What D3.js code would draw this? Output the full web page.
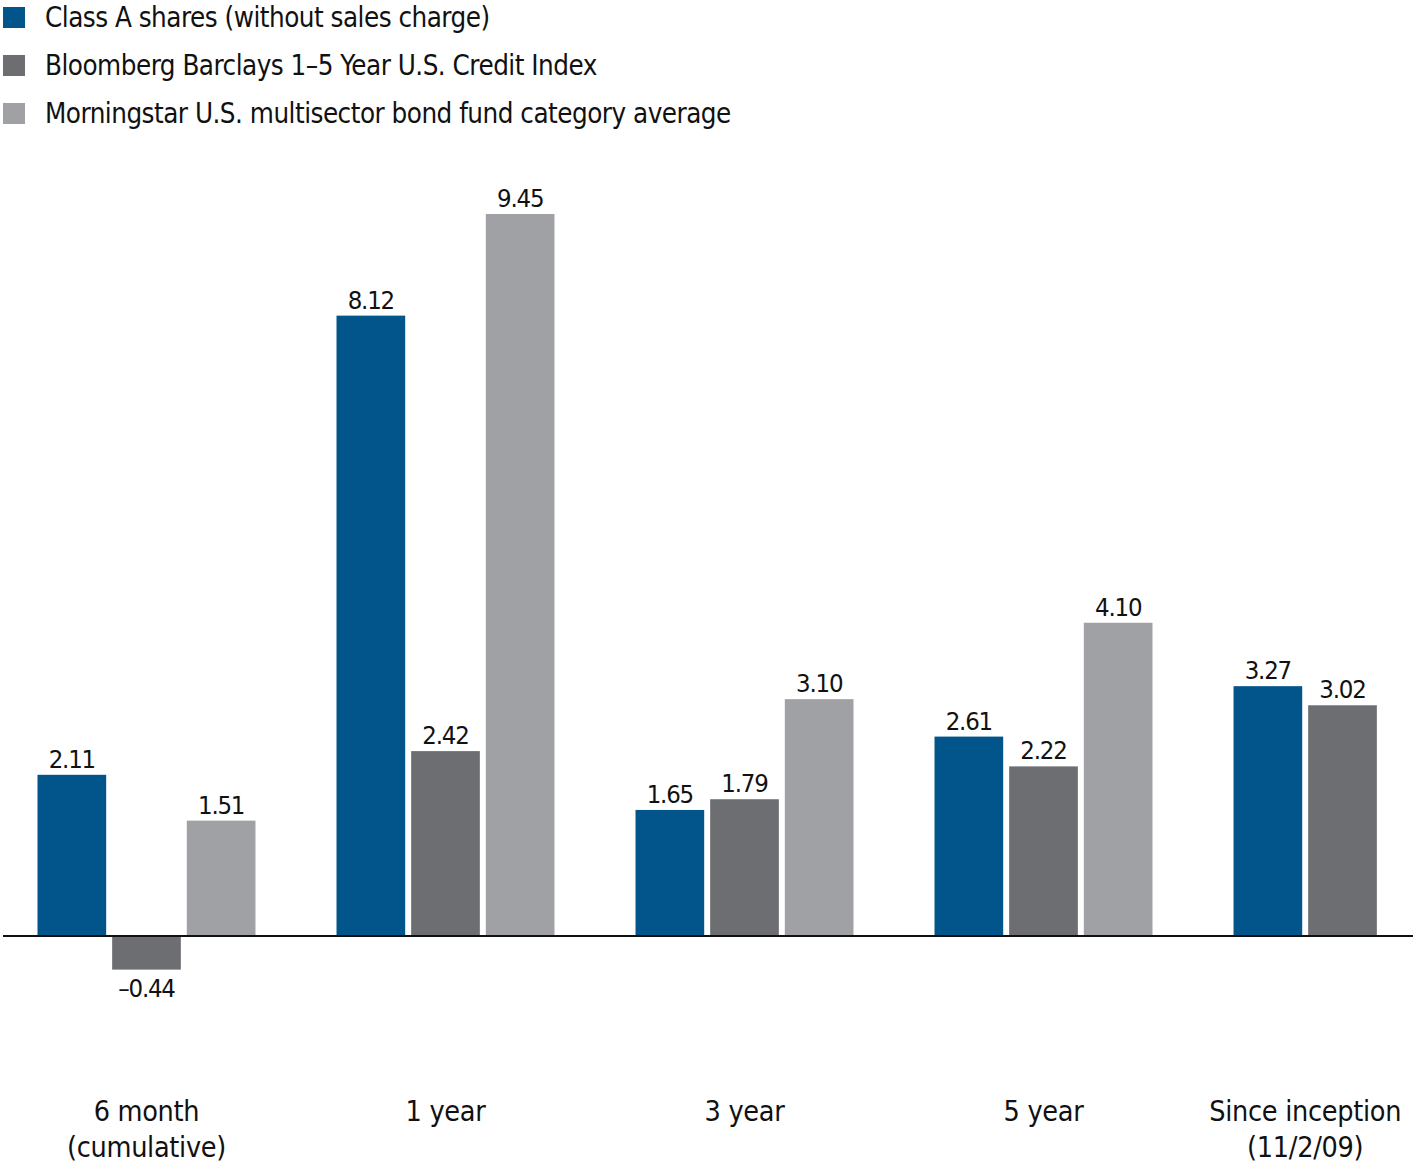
<!DOCTYPE html>
<html>
<head>
<meta charset="utf-8">
<script src="https://cdn.jsdelivr.net/npm/d3@7"></script>
<style>
  html, body { margin: 0; padding: 0; background: #fff; }
  svg { display: block; font-family: "Liberation Sans Narrow", "DejaVu Sans Condensed", "Arial Narrow", sans-serif; }
</style>
</head>
<body>
<svg id="chart" width="1413" height="1167"></svg>
<script>
const categories = ["6 month|(cumulative)", "1 year", "3 year", "5 year", "Since inception|(11/2/09)"];
const seriesNames = [
  "Class A shares (without sales charge)",
  "Bloomberg Barclays 1\u20135 Year U.S. Credit Index",
  "Morningstar U.S. multisector bond fund category average"
];
const classA = [2.11, 8.12, 1.65, 2.61, 3.27];
const bloomberg = [-0.44, 2.42, 1.79, 2.22, 3.02];
const morningstar = [1.51, 9.45, 3.10, 4.10, null];
const colors = ["#02558b", "#6d6e72", "#a0a1a5"];

const seriesValues = [classA, bloomberg, morningstar];
const fmt = v => (v < 0 ? "\u2013" : "") + Math.abs(v).toFixed(2);

const svg = d3.select("#chart");

const x0 = d3.scaleBand().domain(d3.range(categories.length))
  .range([37.5, 1451.5]).paddingInner(0.271).paddingOuter(0);
const x1 = d3.scaleBand().domain(d3.range(seriesNames.length))
  .range([0, x0.bandwidth()]).paddingInner(0.08).paddingOuter(0);
const y = d3.scaleLinear().domain([0, 10]).range([936, 172]);

// bars
const groups = svg.append("g").selectAll("g")
  .data(categories).join("g")
  .attr("transform", (d, i) => `translate(${x0(i)},0)`);

groups.each(function(cat, ci) {
  const g = d3.select(this);
  const present = seriesValues.map((s, si) => ({si, v: s[ci]})).filter(d => d.v !== null);
  g.selectAll("rect").data(present).join("rect")
    .attr("x", d => x1(d.si))
    .attr("width", x1.bandwidth())
    .attr("y", d => y(Math.max(0, d.v)))
    .attr("height", d => Math.abs(y(d.v) - y(0)))
    .attr("fill", d => colors[d.si]);
  g.selectAll("text.val").data(present).join("text")
    .attr("class", "val")
    .attr("x", d => x1(d.si) + x1.bandwidth() / 2)
    .attr("y", d => d.v >= 0 ? y(d.v) - 7 : y(d.v) + 27)
    .attr("text-anchor", "middle")
    .attr("font-size", 25.5)
    .attr("letter-spacing", -1.2)
    .attr("fill", "#111")
    .text(d => fmt(d.v));
  // category label centered on present bars
  const first = x1(present[0].si);
  const last = x1(present[present.length - 1].si) + x1.bandwidth();
  const cx = (first + last) / 2;
  const lines = cat.split("|");
  const t = g.append("text")
    .attr("text-anchor", "middle")
    .attr("font-size", 28.5)
    .attr("letter-spacing", -0.3)
    .attr("fill", "#111");
  lines.forEach((ln, li) => {
    t.append("tspan").attr("x", cx).attr("y", 1121 + li * 36).text(ln);
  });
});

// zero line
svg.append("line")
  .attr("x1", 3).attr("x2", 1413)
  .attr("y1", y(0)).attr("y2", y(0))
  .attr("stroke", "#111").attr("stroke-width", 2);

// legend
const legend = svg.append("g").selectAll("g")
  .data(seriesNames).join("g")
  .attr("transform", (d, i) => `translate(0,${i * 48})`);
legend.append("rect")
  .attr("x", 3).attr("y", 7).attr("width", 22).attr("height", 21)
  .attr("fill", (d, i) => colors[i]);
legend.append("text")
  .attr("x", 45).attr("y", 27)
  .attr("font-size", 27.5)
  .attr("letter-spacing", -0.5)
  .attr("fill", "#111")
  .text(d => d);
</script>
</body>
</html>
